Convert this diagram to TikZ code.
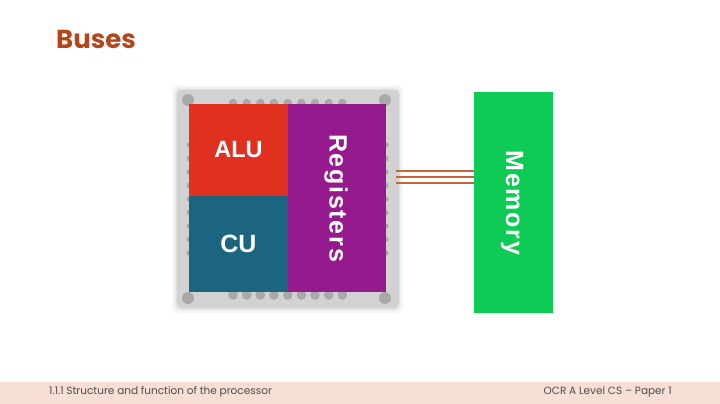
\documentclass[tikz,border=0pt]{standalone}
\usepackage{fontspec}
\setmainfont{Poppins}
\newfontfamily\blockfont{Liberation Sans}[LetterSpace=0]
\newfontfamily\spacedfont{Liberation Sans}[LetterSpace=7]
\definecolor{titlecol}{HTML}{B5461B}
\definecolor{footercol}{HTML}{F8DFD6}
\definecolor{chipcol}{HTML}{D2D2D2}
\definecolor{chippincol}{HTML}{A9A9A9}
\definecolor{alucol}{HTML}{E03020}
\definecolor{cucol}{HTML}{1B6580}
\definecolor{regcol}{HTML}{941A8E}
\definecolor{memcol}{HTML}{0ECB55}
\definecolor{buscol}{HTML}{C8643A}
\tikzset{
  block/.style={inner sep=0pt, outer sep=0pt, text=white},
  chippin/.style={fill=chippincol, draw=none},
  busline/.style={draw=buscol, line width=1.6pt},
  footertext/.style={inner sep=0pt, text=black!70, font=\fontsize{10.5}{12}\selectfont}
}
\begin{document}
\begin{tikzpicture}[x=1pt, y=-1pt]
\useasboundingbox (0,0) rectangle (720,404);
\fill[white] (0,0) rectangle (720,404);
\fill[footercol] (0,382) rectangle (720,404);
\node[inner sep=0pt, anchor=west, text=titlecol, font=\fontsize{26}{30}\selectfont\bfseries] (title) at (56,39) {Buses};
\node[footertext, anchor=west] (topic) at (49,392) {1.1.1 Structure and function of the processor};
\node[footertext, anchor=east] (paper) at (672,392) {OCR A Level CS -- Paper 1};
% chip shadow
\fill[black, opacity=0.03, rounded corners=6pt] (172,85) rectangle (403,313);
\fill[black, opacity=0.04, rounded corners=6pt] (174,87) rectangle (401,311);
\fill[black, opacity=0.06, rounded corners=5pt] (176,89) rectangle (399.5,309);
\node[block, fill=chipcol, minimum width=222pt, minimum height=218pt, rounded corners=5pt] (chip) at (288,199) {};
% pins along the top
\draw[chippin] (233,103) circle (4.2);
\draw[chippin] (246.7,103) circle (4.2);
\draw[chippin] (260.4,103) circle (4.2);
\draw[chippin] (274,103) circle (4.2);
\draw[chippin] (287.7,103) circle (4.2);
\draw[chippin] (301.4,103) circle (4.2);
\draw[chippin] (315,103) circle (4.2);
\draw[chippin] (328.7,103) circle (4.2);
\draw[chippin] (342.4,103) circle (4.2);
% pins along the bottom
\draw[chippin] (233,295) circle (4.8);
\draw[chippin] (246.7,295) circle (4.8);
\draw[chippin] (260.4,295) circle (4.8);
\draw[chippin] (274,295) circle (4.8);
\draw[chippin] (287.7,295) circle (4.8);
\draw[chippin] (301.4,295) circle (4.8);
\draw[chippin] (315,295) circle (4.8);
\draw[chippin] (328.7,295) circle (4.8);
\draw[chippin] (342.4,295) circle (4.8);
% pins along the left
\draw[chippin] (189,145) circle (2.6);
\draw[chippin] (189,158.5) circle (2.6);
\draw[chippin] (189,172) circle (2.6);
\draw[chippin] (189,185.5) circle (2.6);
\draw[chippin] (189,199) circle (2.6);
\draw[chippin] (189,212.5) circle (2.6);
\draw[chippin] (189,226) circle (2.6);
\draw[chippin] (189,239.5) circle (2.6);
\draw[chippin] (189,253) circle (2.6);
% pins along the right
\draw[chippin] (386,145) circle (2.6);
\draw[chippin] (386,158.5) circle (2.6);
\draw[chippin] (386,172) circle (2.6);
\draw[chippin] (386,185.5) circle (2.6);
\draw[chippin] (386,199) circle (2.6);
\draw[chippin] (386,212.5) circle (2.6);
\draw[chippin] (386,226) circle (2.6);
\draw[chippin] (386,239.5) circle (2.6);
\draw[chippin] (386,253) circle (2.6);
% corner screws
\draw[chippin] (188,100) circle (6);
\draw[chippin] (385,100) circle (6);
\draw[chippin] (188,298) circle (6);
\draw[chippin] (385,298) circle (6);
% blocks
\node[block, fill=alucol, minimum width=99pt, minimum height=92pt, font=\blockfont\fontsize{23.5}{26}\selectfont\bfseries] (alu) at (238.5,150) {ALU};
\node[block, fill=cucol, minimum width=99pt, minimum height=96pt, font=\blockfont\fontsize{25}{28}\selectfont\bfseries] (cu) at (238.5,244) {CU};
\node[block, fill=regcol, minimum width=98pt, minimum height=188pt] (registers) at (337,198) {};
\node[block, rotate=-90, font=\spacedfont\fontsize{25}{28}\selectfont\bfseries] (reglabel) at (336,198) {Registers};
\node[block, fill=memcol, minimum width=79pt, minimum height=221pt] (memory) at (513.5,202.5) {};
\node[block, rotate=-90, font=\spacedfont\fontsize{25}{28}\selectfont\bfseries] (memlabel) at (512,203) {Memory};
% the three bus lines
\coordinate (busa) at (396,171);
\coordinate (busb) at (396,177);
\coordinate (busc) at (396,183);
\draw[busline] (busa) -- (busa -| memory.west);
\draw[busline] (busb) -- (busb -| memory.west);
\draw[busline] (busc) -- (busc -| memory.west);
\end{tikzpicture}
\end{document}
